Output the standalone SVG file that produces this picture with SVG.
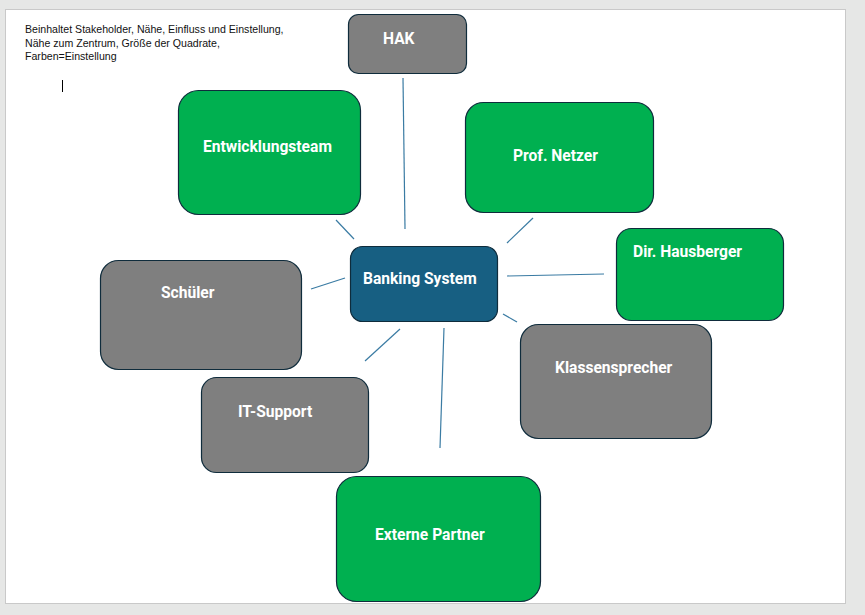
<svg xmlns="http://www.w3.org/2000/svg" width="865" height="615" viewBox="0 0 865 615">
<style>
.n{stroke:#0f2c3c;stroke-width:1.2}
.g{fill:#00b050}
.r{fill:#7f7f7f}
.b{fill:#175f82}
.t{font-family:Roboto,"Liberation Sans",sans-serif;font-weight:bold;font-size:15.6px;fill:#ffffff}
.c line{stroke:#3a7ba3;stroke-width:1.2}
.note{font-family:"Liberation Sans",Arial,sans-serif;font-size:10.6px;fill:#111111}
</style>
<rect x="0" y="0" width="865" height="615" fill="#e6e7e6"/>
<rect x="5.5" y="9.5" width="840" height="594" fill="#ffffff" stroke="#c9c9c9" stroke-width="1"/>
<g id="note">
<text class="note" x="25" y="33">Beinhaltet Stakeholder, Nähe, Einfluss und Einstellung,</text>
<text class="note" x="25" y="47">Nähe zum Zentrum, Größe der Quadrate,</text>
<text class="note" x="25" y="60">Farben=Einstellung</text>
<line x1="62.5" y1="80" x2="62.5" y2="92" stroke="#000" stroke-width="1"/>
</g>
<g class="c" id="connectors">
<line x1="403" y1="78" x2="405" y2="229"/>
<line x1="336" y1="220" x2="354" y2="239"/>
<line x1="533" y1="218" x2="507" y2="243"/>
<line x1="507" y1="276" x2="604" y2="274"/>
<line x1="503" y1="314" x2="517" y2="322"/>
<line x1="311" y1="289" x2="345" y2="278"/>
<line x1="365" y1="361" x2="400" y2="329"/>
<line x1="444" y1="328" x2="440" y2="448"/>
</g>
<g id="hak"><rect class="n r" x="348.5" y="14.5" width="118" height="59" rx="10"/><text class="t" x="383" y="44">HAK</text></g>
<g id="entwicklungsteam"><rect class="n g" x="178.5" y="90.5" width="182" height="124" rx="20"/><text class="t" x="203" y="152">Entwicklungsteam</text></g>
<g id="prof-netzer"><rect class="n g" x="465.5" y="102.5" width="188" height="110" rx="18"/><text class="t" x="513" y="161">Prof. Netzer</text></g>
<g id="dir-hausberger"><rect class="n g" x="616.5" y="228.5" width="167" height="92" rx="15"/><text class="t" x="633" y="257">Dir. Hausberger</text></g>
<g id="banking-system"><rect class="n b" x="350.5" y="246.5" width="147" height="75" rx="12"/><text class="t" x="363" y="284">Banking System</text></g>
<g id="schueler"><rect class="n r" x="100.5" y="260.5" width="201" height="109" rx="18"/><text class="t" x="161" y="298">Schüler</text></g>
<g id="klassensprecher"><rect class="n r" x="520.5" y="324.5" width="191" height="114" rx="18"/><text class="t" x="555" y="373">Klassensprecher</text></g>
<g id="it-support"><rect class="n r" x="201.5" y="377.5" width="167" height="95" rx="15"/><text class="t" x="238" y="417">IT-Support</text></g>
<g id="externe-partner"><rect class="n g" x="336.5" y="476.5" width="204" height="125" rx="20"/><text class="t" x="375" y="540">Externe Partner</text></g>
</svg>
